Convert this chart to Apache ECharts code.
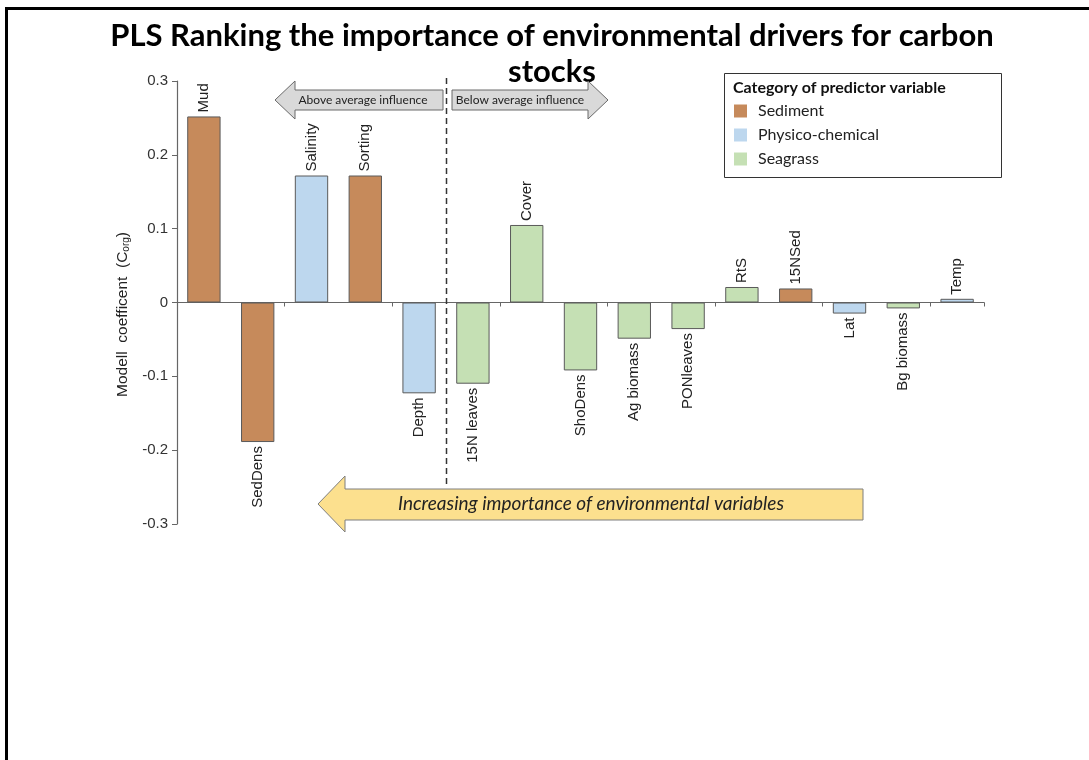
<!DOCTYPE html>
<html>
<head>
<meta charset="utf-8">
<title>PLS ranking</title>
<script src="https://cdn.jsdelivr.net/npm/echarts/dist/echarts.min.js"></script>
<style>
html,body{margin:0;padding:0;background:#fff;}
#chart{width:1089px;height:760px;}
</style>
</head>
<body>
<div id="chart"></div>
<script>
// variables, ordered by importance (left = most important)
var categories = ['Mud','SedDens','Salinity','Sorting','Depth','15N leaves','Cover','ShoDens',
    'Ag biomass','PONleaves','RtS','15NSed','Lat','Bg biomass','Temp'];
var coefficients = [0.252,-0.189,0.172,0.172,-0.123,-0.110,0.105,-0.092,
    -0.049,-0.036,0.021,0.019,-0.015,-0.008,0.005];
var groupOf = ['Sediment','Sediment','Physico-chemical','Sediment','Physico-chemical','Seagrass','Seagrass','Seagrass',
    'Seagrass','Seagrass','Seagrass','Sediment','Physico-chemical','Seagrass','Physico-chemical'];
var groupNames = ['Sediment','Physico-chemical','Seagrass'];
var groupColors = ['#C68A5B','#BDD7EE','#C5E0B4'];
var yTicks = [-0.3,-0.2,-0.1,0,0.1,0.2,0.3];

var txtFont = 'Lato';
var axisFont = '"Liberation Sans", Arial';

function seriesData(group){
    var out = [];
    for(var i=0;i<categories.length;i++){
        if(groupOf[i]!=group){
            out.push('-');
            continue;
        }
        var v = coefficients[i];
        out.push({
            value:v,
            label:{position:v>=0?'top':'bottom',align:v>=0?'left':'right'}
        });
    }
    return out;
}

var series = [];
for(var g=0;g<groupNames.length;g++){
    series.push({
        type:'bar',
        name:groupNames[g],
        stack:'all',
        barCategoryGap:'38%',
        data:seriesData(groupNames[g]),
        itemStyle:{color:groupColors[g],borderColor:'#5a5a5a',borderWidth:1},
        label:{
            show:true,
            rotate:90,
            verticalAlign:'middle',
            distance:4,
            fontFamily:axisFont,
            fontSize:15,
            color:'#222',
            formatter:function(p){return p.name;}
        },
        emphasis:{disabled:true}
    });
}

var chart = echarts.init(document.getElementById('chart'),null,{renderer:'canvas'});
var option = {
    animation:false,
    backgroundColor:'#fff',
    grid:{left:177,right:105,top:81,bottom:236,containLabel:false,outerBoundsMode:'none'},
    legend:{
        data:groupNames,
        orient:'vertical',
        left:734,
        top:102,
        icon:'rect',
        itemWidth:13,
        itemHeight:13,
        itemGap:6,
        padding:0,
        selectedMode:false,
        itemStyle:{borderWidth:0},
        textStyle:{fontFamily:txtFont,fontSize:16,lineHeight:18,color:'#222',padding:[0,0,0,6]}
    },
    xAxis:{
        type:'category',
        data:categories,
        axisLine:{show:true,onZero:true,lineStyle:{color:'#666',width:1.2}},
        axisTick:{show:true,length:4,lineStyle:{color:'#666'}},
        axisLabel:{show:false},
        splitLine:{show:false}
    },
    yAxis:{
        type:'value',
        min:yTicks[0],
        max:yTicks[yTicks.length-1],
        interval:0.1,
        name:'Modell  coefficent  (C{sub|org})',
        nameLocation:'middle',
        nameGap:42,
        nameRotate:90,
        nameTextStyle:{
            fontFamily:axisFont,fontSize:15.5,color:'#222',padding:[0,24,0,0],
            rich:{sub:{fontFamily:axisFont,fontSize:10,color:'#222',padding:[7,0,0,0]}}
        },
        axisLine:{show:true,lineStyle:{color:'#666',width:1.2}},
        axisTick:{show:true,length:5,lineStyle:{color:'#666'}},
        axisLabel:{
            fontFamily:axisFont,fontSize:15,color:'#333',margin:9,
            formatter:function(v){return String(Math.round(v*10)/10);}
        },
        splitLine:{show:false}
    },
    series:series
};
chart.setOption(option);

// annotations: split line between Depth and 15N leaves, arrows, legend box, title
var xa = chart.convertToPixel({xAxisIndex:0},'Depth');
var xb = chart.convertToPixel({xAxisIndex:0},'15N leaves');
var splitX = Math.round((xa+xb)/2)+0.5;

var graphics = [
    {type:'line',shape:{x1:6.5,y1:7,x2:6.5,y2:760},style:{stroke:'#000',lineWidth:3}},
    {type:'line',shape:{x1:5,y1:8.5,x2:1089,y2:8.5},style:{stroke:'#000',lineWidth:3}},
    {type:'text',x:552,y:36,style:{text:'PLS Ranking the importance of environmental drivers for carbon',
        font:'bold 31px '+txtFont,fill:'#000',textAlign:'center',textVerticalAlign:'middle'}},
    {type:'text',x:552,y:72,style:{text:'stocks',
        font:'bold 31px '+txtFont,fill:'#000',textAlign:'center',textVerticalAlign:'middle'}},
    {type:'rect',shape:{x:724.5,y:73.5,width:277,height:104},style:{fill:'#fff',stroke:'#333',lineWidth:1},z:-1},
    {type:'text',x:733,y:88,style:{text:'Category of predictor variable',
        font:'bold 16px '+txtFont,fill:'#111',textVerticalAlign:'middle'}},
    {type:'polygon',shape:{points:[[275,100],[295,81],[295,90],[443,90],[443,110],[295,110],[295,119]]},
        style:{fill:'#D9D9D9',stroke:'#6a6a6a',lineWidth:1}},
    {type:'text',x:363,y:100,style:{text:'Above average influence',
        font:'12px '+txtFont,fill:'#222',textAlign:'center',textVerticalAlign:'middle'}},
    {type:'polygon',shape:{points:[[452,90],[588,90],[588,81],[608,100],[588,119],[588,110],[452,110]]},
        style:{fill:'#D9D9D9',stroke:'#6a6a6a',lineWidth:1}},
    {type:'text',x:520,y:100,style:{text:'Below average influence',
        font:'12px '+txtFont,fill:'#222',textAlign:'center',textVerticalAlign:'middle'}},
    {type:'line',shape:{x1:splitX,y1:78,x2:splitX,y2:488},
        style:{stroke:'#333',lineWidth:1.5,lineDash:[6,4]},z:10},
    {type:'polygon',shape:{points:[[318,504],[345,476],[345,489],[863,489],[863,520],[345,520],[345,532]]},
        style:{fill:'#FCE08E',stroke:'#7f7f7f',lineWidth:1},z:11},
    {type:'text',x:591,y:504,style:{text:'Increasing importance of environmental variables',
        font:'italic 19px '+txtFont,fill:'#222',textAlign:'center',textVerticalAlign:'middle'},z:12}
];
chart.setOption({graphic:graphics});
</script>
</body>
</html>
